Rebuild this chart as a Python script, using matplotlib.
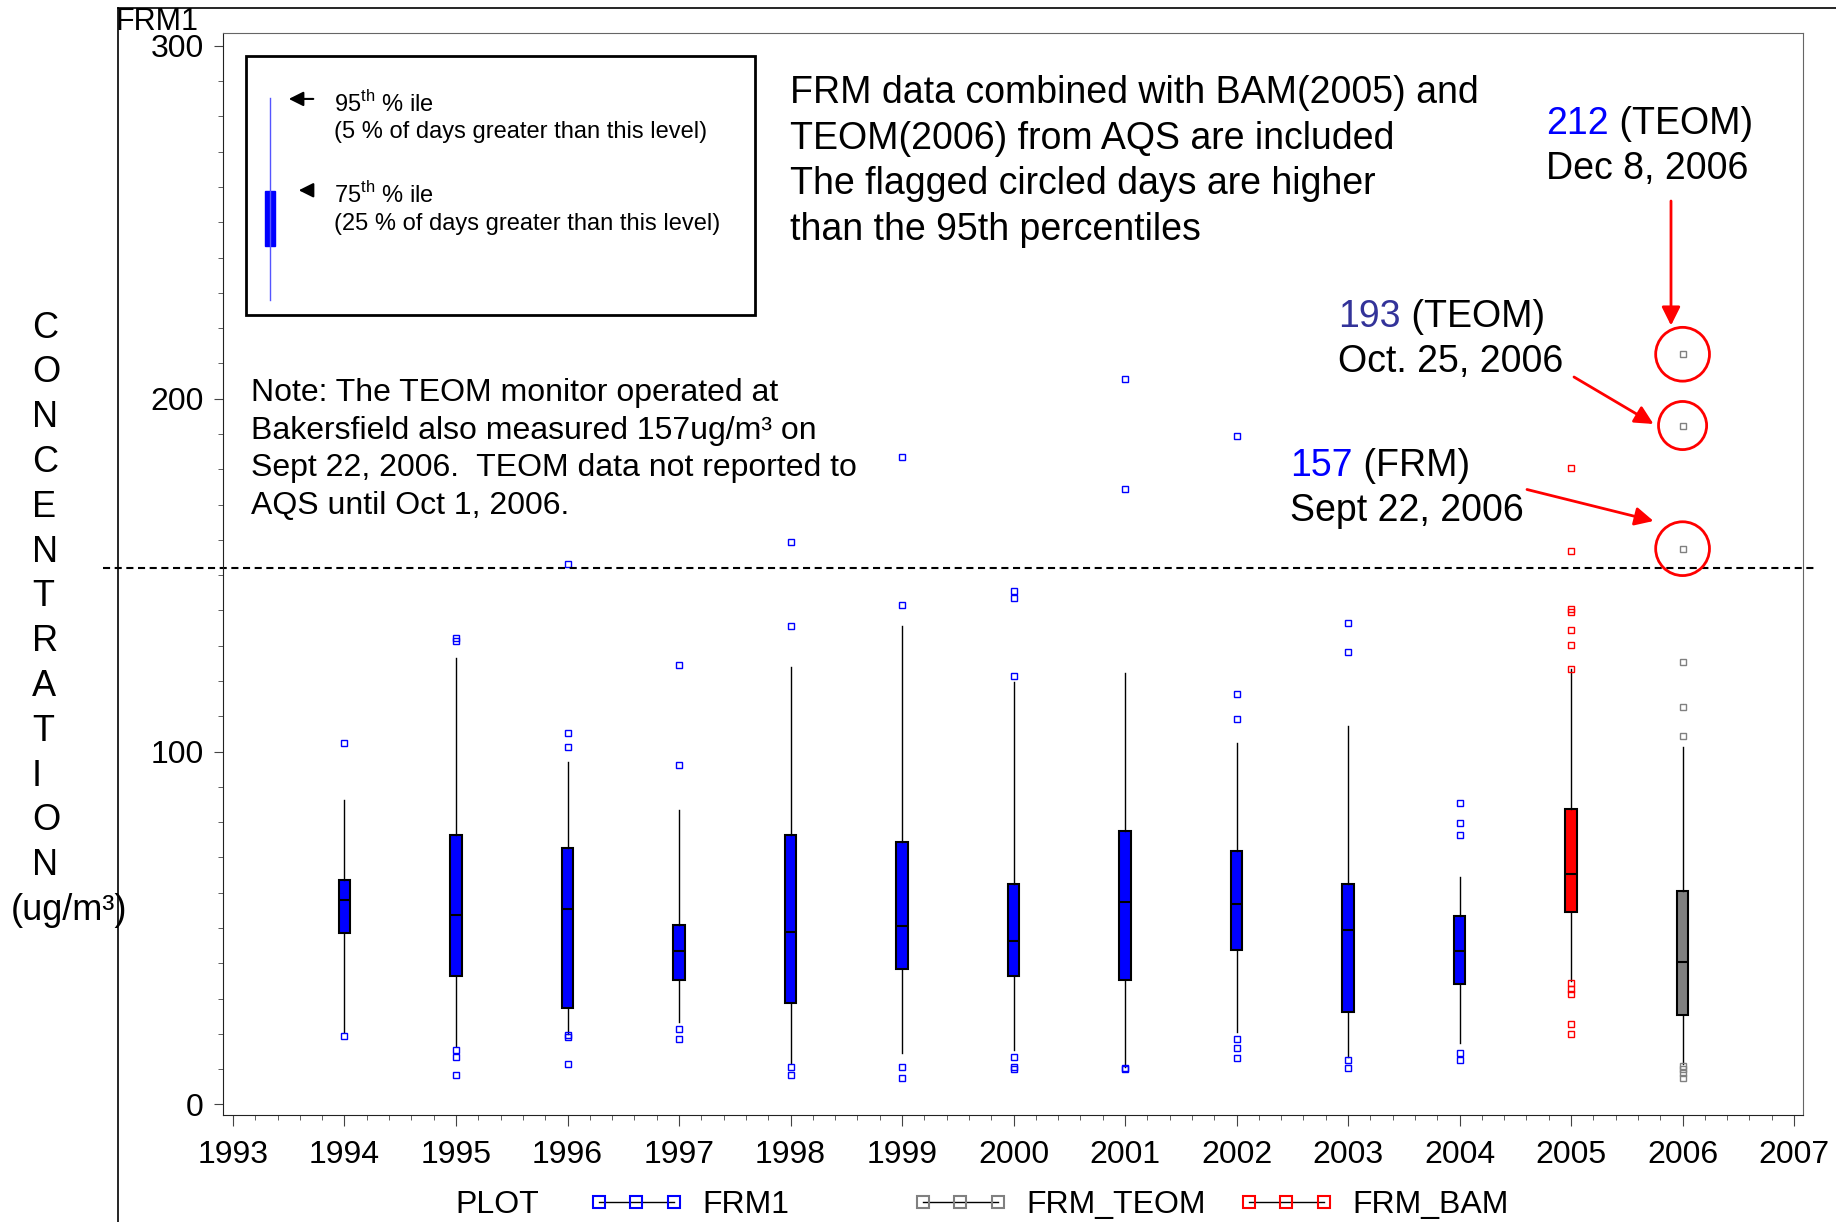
import matplotlib
matplotlib.use('Agg')
import matplotlib.pyplot as plt
from matplotlib.lines import Line2D
from matplotlib.patches import Rectangle
from matplotlib.ticker import MultipleLocator

plt.rcParams['font.family'] = ['Liberation Sans', 'DejaVu Sans']
plt.rcParams['mathtext.fontset'] = 'custom'
plt.rcParams['mathtext.rm'] = 'Liberation Sans'

W, H = 1836, 1222

# --- data (ug/m3) ---
years = [1994, 1995, 1996, 1997, 1998, 1999, 2000, 2001, 2002, 2003, 2004, 2005, 2006]
series = ['FRM1'] * 11 + ['FRM_BAM', 'FRM_TEOM']
q1 = [48.5, 36.5, 27.2, 35.2, 28.6, 38.3, 36.5, 35.2, 43.9, 26.2, 34.2, 54.5, 25.3]
med = [57.8, 53.8, 55.5, 43.5, 48.8, 50.5, 46.4, 57.5, 56.8, 49.3, 43.5, 65.3, 40.5]
q3 = [63.5, 76.4, 72.8, 50.8, 76.4, 74.4, 62.5, 77.4, 71.8, 62.5, 53.5, 83.6, 60.5]
p5 = [20.5, 16.5, 20.0, 23.4, 11.6, 14.6, 15.4, 10.5, 20.6, 13.5, 17.3, 35.0, 11.4]
p95 = [86.4, 126.6, 97.0, 83.4, 123.9, 135.5, 119.6, 122.3, 102.3, 107.3, 64.5, 123.3, 101.3]
outliers = [
    [102.3, 19.3],
    [132.2, 131.4, 15.4, 13.4, 8.3],
    [153.2, 105.3, 101.3, 19.6, 19.1, 11.4],
    [124.6, 96.3, 21.4, 18.5],
    [159.5, 135.5, 10.6, 8.3],
    [183.4, 141.5, 10.6, 7.4],
    [145.5, 143.5, 121.3, 13.5, 10.6, 10.1],
    [205.6, 174.4, 10.3, 10.0],
    [189.4, 116.3, 109.3, 18.4, 15.9, 13.2],
    [136.5, 128.2, 12.6, 10.3],
    [85.4, 79.7, 76.4, 14.6, 12.6],
    [180.4, 156.7, 140.4, 139.6, 134.4, 130.1, 123.3, 34.3, 32.8, 31.3, 22.9, 19.9],
    [212.6, 192.4, 157.5, 125.4, 112.5, 104.5, 10.9, 9.9, 8.9, 7.4],
]
threshold = 152
series_colors = {'FRM1': '#0000ff', 'FRM_TEOM': '#808080', 'FRM_BAM': '#ff0000'}


def px(x, y):
    """pixel position of the reference -> figure fraction"""
    return x / W, 1 - y / H


fig = plt.figure(figsize=(W / 100, H / 100), dpi=100)
ax = fig.add_axes([222.5 / W, 1 - 1115 / H, (1803 - 222.5) / W, (1115 - 32.8) / H])

stats = [dict(q1=a, med=b, q3=c, whislo=d, whishi=e, fliers=f)
         for a, b, c, d, e, f in zip(q1, med, q3, p5, p95, outliers)]
bp = ax.bxp(stats, positions=years, widths=0.1, patch_artist=True, showcaps=False,
            manage_ticks=False,
            boxprops=dict(lw=1.5, edgecolor='black'),
            medianprops=dict(color='black', lw=1.5),
            whiskerprops=dict(color='black', lw=1),
            flierprops=dict(marker='s', markersize=5, markerfacecolor='none',
                            markeredgewidth=1, linestyle='none'))
for patch, fl, s in zip(bp['boxes'], bp['fliers'], series):
    patch.set_facecolor(series_colors[s])
    fl.set_markeredgecolor(series_colors[s])

ax.axhline(threshold, xmin=-0.0756, xmax=1.0089, color='black', lw=1.5,
           ls=(0, (3.4, 2.2)), clip_on=False)

# circled TEOM days
teom = outliers[series.index('FRM_TEOM')]
flagged = [v for v in teom if v > threshold]
ax.scatter([2006] * len(flagged), flagged, s=[1500, 1200, 1500], facecolors='none',
           edgecolors='red', linewidths=2, zorder=5)

ax.set_xlim(1992.906, 2007.08)
ax.set_ylim(-3.0, 303.7)
ax.set_xticks(range(1993, 2008))
ax.set_yticks([0, 100, 200, 300])
ax.xaxis.set_minor_locator(MultipleLocator(0.2))
ax.yaxis.set_minor_locator(MultipleLocator(10))
ax.tick_params(axis='both', which='both', direction='out', color='#444444', labelsize=23)
ax.tick_params(axis='x', which='major', length=7.7, pad=10)
ax.tick_params(axis='x', which='minor', length=3.4)
ax.tick_params(axis='y', which='major', length=6.5, pad=7)
ax.tick_params(axis='y', which='minor', length=3.6)
for side in ['top', 'right']:
    ax.spines[side].set_color('#666666')
for side in ['left', 'bottom']:
    ax.spines[side].set_color('#222222')

# explanation box (top left)
ax.add_patch(Rectangle((0.01487, 0.7392), 0.3369 - 0.01487, 0.9786 - 0.7392,
                       transform=ax.transAxes, fill=False, lw=2, ec='black'))
ax.add_line(Line2D([0.0301, 0.0301], [0.7535, 0.9398], transform=ax.transAxes,
                   color='#5555ff', lw=1))
ax.add_patch(Rectangle((0.0301 - 0.0032, 0.8029), 0.0064, 0.8537 - 0.8029,
                       transform=ax.transAxes, color='#0000ff'))
ax.annotate('', xy=(0.0402, 0.9389), xytext=(0.0592, 0.9389), xycoords='axes fraction',
            arrowprops=dict(arrowstyle='-|>', color='black', lw=1.5, mutation_scale=22))
ax.annotate('', xy=(0.0465, 0.8545), xytext=(0.0573, 0.8545), xycoords='axes fraction',
            arrowprops=dict(arrowstyle='-|>', color='black', lw=1.5, mutation_scale=22))
box_txt = dict(transform=ax.transAxes, fontsize=17, va='center', ha='left')
ax.text(0.0706, 0.9343, r'95$^{\mathrm{th}}$ % ile', **box_txt)
ax.text(0.0706, 0.9082, '(5 % of days greater than this level)', **box_txt)
ax.text(0.0706, 0.8503, r'75$^{\mathrm{th}}$ % ile', **box_txt)
ax.text(0.0706, 0.8231, '(25 % of days greater than this level)', **box_txt)

fig.text(*px(790, 161.5), 'FRM data combined with BAM(2005) and\nTEOM(2006) from AQS are included\n'
         'The flagged circled days are higher\nthan the 95th percentiles',
         fontsize=27, va='center', ha='left', linespacing=1.335)
fig.text(*px(251, 449.5), 'Note: The TEOM monitor operated at\nBakersfield also measured 157ug/m³ on\n'
         'Sept 22, 2006.  TEOM data not reported to\nAQS until Oct 1, 2006.',
         fontsize=23, va='center', ha='left', linespacing=1.34)

# labelled flagged days
notes = [('212', '#0000ff', ' (TEOM)', 'Dec 8, 2006', 1546, 124.1),
         ('193', '#333399', ' (TEOM)', 'Oct. 25, 2006', 1338.5, 317.3),
         ('157', '#0000ff', ' (FRM)', 'Sept 22, 2006', 1290.4, 466.2)]
for num, col, inst, date, x0, y0 in notes:
    t = fig.text(*px(x0, y0), num, color=col, fontsize=27, va='center', ha='left')
    ax.annotate(inst, xy=(1, 0.5), xycoords=t, va='center', ha='left', fontsize=27)
    fig.text(*px(x0, y0 + 44.5), date, fontsize=27, va='center', ha='left')

for (x0, y0), (x1, y1) in [((1671, 201), (1671, 325.5)),
                           ((1574, 377), (1653.5, 424)),
                           ((1527, 489.5), (1653.5, 521))]:
    ax.annotate('', xy=px(x1, y1), xytext=px(x0, y0), xycoords='figure fraction',
                arrowprops=dict(arrowstyle='-|>', color='red', lw=2, mutation_scale=28,
                                shrinkA=0, shrinkB=0))

# y label, one letter per line
for i, ch in enumerate('CONCENTRATION'):
    fig.text(*px(32, 328 + 44.8 * i), ch, fontsize=26, va='center', ha='left')
fig.text(*px(69, 911), '(ug/m³)', fontsize=26, va='center', ha='center')

fig.text(*px(116, 21.5), 'FRM1', fontsize=22, va='center', ha='left')
fig.add_artist(Line2D([118 / W, 118 / W], [0, 1 - 8 / H], transform=fig.transFigure,
                      color='black', lw=1.2))
fig.add_artist(Line2D([118 / W, 1], [1 - 8 / H, 1 - 8 / H], transform=fig.transFigure,
                      color='black', lw=1.2))

# bottom legend
fig.text(*px(497, 1205), 'PLOT', fontsize=23, va='center', ha='center')
for name, x0 in [('FRM1', 589), ('FRM_TEOM', 913), ('FRM_BAM', 1239)]:
    h = Line2D([], [], color='black', lw=1, marker='s', markersize=8.5,
               markerfacecolor='none', markeredgecolor=series_colors[name], markeredgewidth=1.5)
    fig.legend(handles=[h], labels=[name], loc='center left', bbox_to_anchor=px(x0, 1205),
               bbox_transform=fig.transFigure, frameon=False, borderpad=0, borderaxespad=0,
               handlelength=2.95, handletextpad=0.6, numpoints=3, fontsize=23)

fig.savefig('out.png', dpi=100)
